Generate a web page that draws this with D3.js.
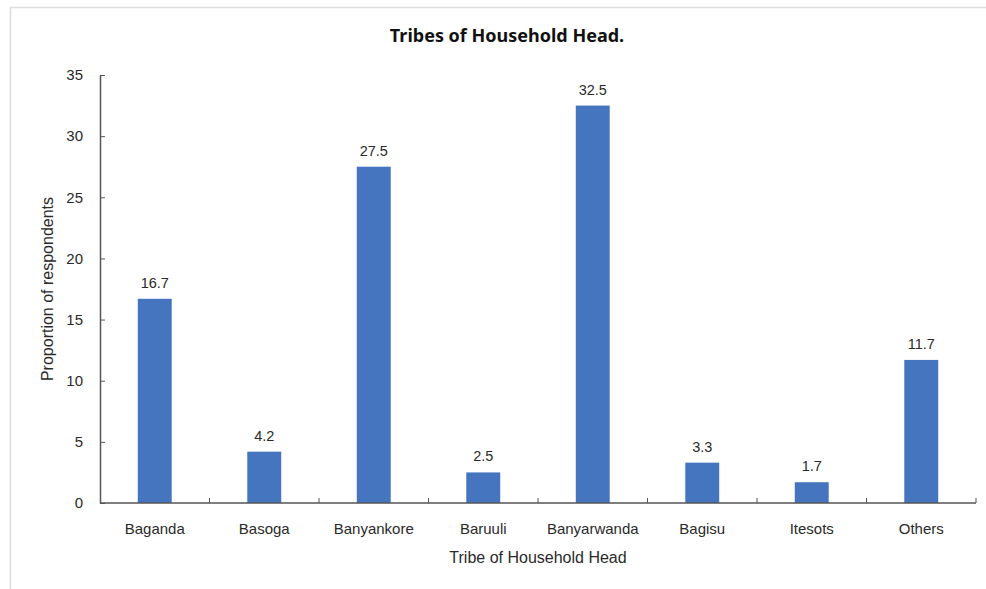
<!DOCTYPE html>
<html>
<head>
<meta charset="utf-8">
<script src="https://cdn.jsdelivr.net/npm/d3@7"></script>
<style>
  html, body { margin: 0; padding: 0; background: #fff; }
  svg { display: block; }
</style>
</head>
<body>
<svg id="chart" width="986" height="589"></svg>
<script>
const categories = ["Baganda", "Basoga", "Banyankore", "Baruuli", "Banyarwanda", "Bagisu", "Itesots", "Others"];
const values = [16.7, 4.2, 27.5, 2.5, 32.5, 3.3, 1.7, 11.7];
const yTicks = [0, 5, 10, 15, 20, 25, 30, 35];
const title = "Tribes of Household Head.";
const xTitle = "Tribe of Household Head";
const yTitle = "Proportion of respondents";

const svg = d3.select("#chart");
const W = 986, H = 589;
const margin = { left: 100, right: 10, top: 75, bottom: 86 };
const plotRight = 976, plotBottom = 503;

// frame
svg.append("path")
  .attr("d", `M10.5,${H} L10.5,7.5 L${W},7.5`)
  .attr("fill", "none").attr("stroke", "#dcdcdc").attr("stroke-width", 1.5);

const x = d3.scaleBand().domain(categories).range([margin.left, plotRight]).padding(0);
const y = d3.scaleLinear().domain([0, 35]).range([plotBottom, margin.top]);
const barW = x.bandwidth() * 0.31;

const textColor = "#2a2a2a";
const font = "'Liberation Sans', Arial, sans-serif";

// bars
svg.append("g").selectAll("rect").data(values).join("rect")
  .attr("x", (d, i) => x(categories[i]) + (x.bandwidth() - barW) / 2)
  .attr("y", d => y(d))
  .attr("width", barW)
  .attr("height", d => y(0) - y(d))
  .attr("fill", "#4575bf");

// value labels
svg.append("g").selectAll("text").data(values).join("text")
  .attr("x", (d, i) => x(categories[i]) + x.bandwidth() / 2)
  .attr("y", d => y(d) - 11)
  .attr("text-anchor", "middle")
  .attr("font-family", font).attr("font-size", 14.5).attr("fill", textColor)
  .text(d => d.toFixed(1));

// y axis
const yAxis = d3.axisLeft(y).tickValues(yTicks).tickSizeInner(-5).tickSizeOuter(0).tickPadding(17).tickFormat(d3.format("d"));
const gy = svg.append("g").attr("transform", `translate(${margin.left},0)`).call(yAxis);
gy.select(".domain").attr("stroke", "#555").attr("stroke-width", 1.5);
gy.selectAll(".tick line").attr("stroke", "#555");
gy.selectAll(".tick text").attr("font-family", font).attr("font-size", 15).attr("fill", textColor);

// x axis (ticks at band boundaries, inward)
const gx = svg.append("g").attr("transform", `translate(0,${plotBottom})`);
gx.append("line").attr("x1", margin.left).attr("x2", plotRight)
  .attr("stroke", "#555").attr("stroke-width", 1.5);
const boundaries = categories.map(c => x(c) + x.bandwidth());
gx.selectAll("line.tk").data(boundaries).join("line").attr("class", "tk")
  .attr("x1", d => d).attr("x2", d => d).attr("y1", 0).attr("y2", -5)
  .attr("stroke", "#555");
gx.selectAll("text").data(categories).join("text")
  .attr("x", d => x(d) + x.bandwidth() / 2)
  .attr("y", 31)
  .attr("text-anchor", "middle")
  .attr("font-family", font).attr("font-size", 15).attr("fill", textColor)
  .text(d => d);

// titles
svg.append("text").attr("x", 507).attr("y", 42).attr("text-anchor", "middle")
  .attr("font-family", "'Noto Sans', 'Open Sans', sans-serif").attr("font-weight", "bold")
  .attr("font-size", 18).attr("fill", "#111").text(title);

svg.append("text").attr("x", 538).attr("y", 563).attr("text-anchor", "middle")
  .attr("font-family", font).attr("font-size", 16).attr("fill", textColor).text(xTitle);

svg.append("text").attr("transform", "translate(53,289) rotate(-90)").attr("text-anchor", "middle")
  .attr("font-family", font).attr("font-size", 16).attr("fill", textColor).text(yTitle);
</script>
</body>
</html>
